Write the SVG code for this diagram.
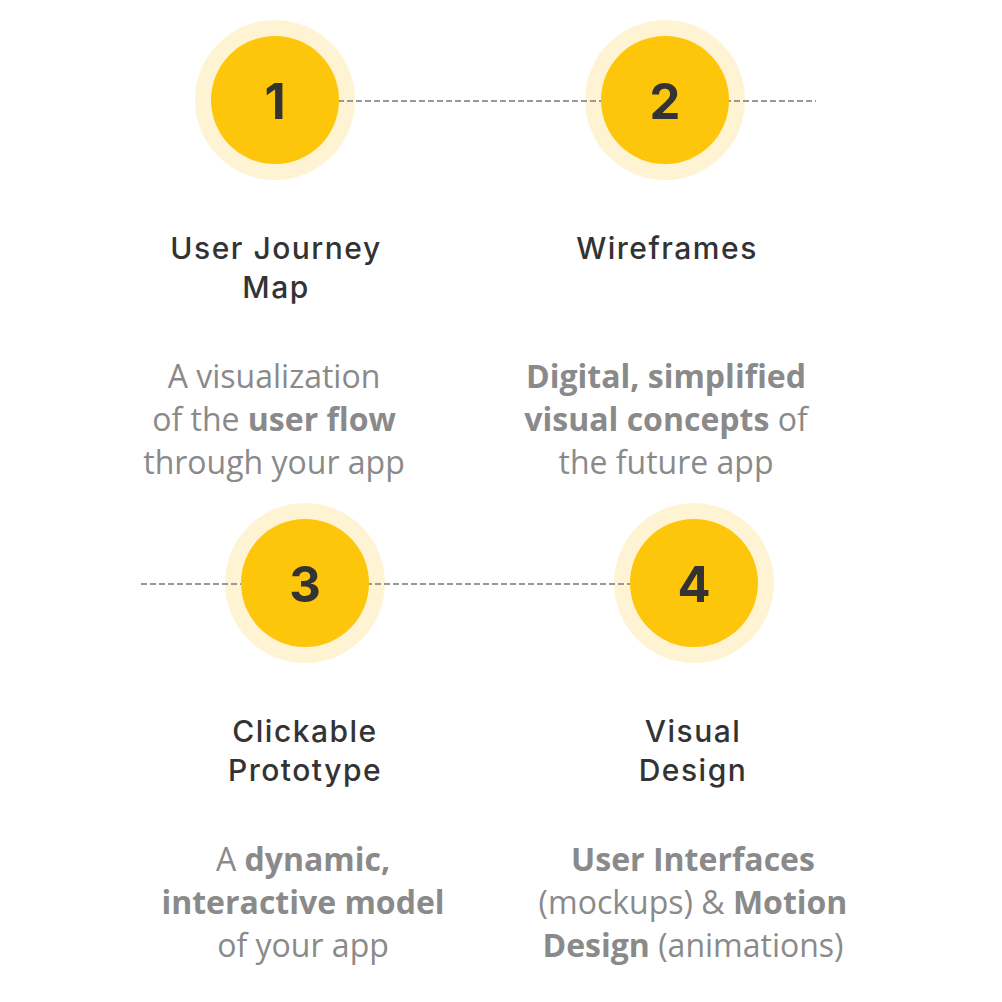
<svg xmlns="http://www.w3.org/2000/svg" width="1002" height="1002" viewBox="0 0 1002 1002">
<style>
.halo{fill:#FEF3D3}
.core{fill:#FDC60B}
.num{font-family:Inter,"DejaVu Sans",sans-serif;font-weight:700;font-size:49px;fill:#333333;text-anchor:middle}
.title{font-family:Inter,"DejaVu Sans",sans-serif;font-weight:500;font-size:30px;fill:#333333;text-anchor:middle;letter-spacing:1.5px}
.desc{font-family:"Open Sans","DejaVu Sans",sans-serif;font-weight:400;font-size:32px;fill:#8a8a8a;text-anchor:middle}
.b{font-weight:700}
.dash{stroke:#999999;stroke-width:2;stroke-dasharray:6 3;fill:none}
</style>
<rect width="1002" height="1002" fill="#ffffff"/>
<g id="halos">
<circle class="halo" cx="275" cy="100" r="80"/>
<circle class="halo" cx="665" cy="100" r="80"/>
<circle class="halo" cx="305" cy="583" r="80"/>
<circle class="halo" cx="694" cy="583" r="80"/>
</g>
<g id="connectors">
<line class="dash" x1="275" y1="101" x2="816" y2="101"/>
<line class="dash" x1="141" y1="584" x2="694" y2="584"/>
</g>
<g id="node1">
<circle class="core" cx="275" cy="100" r="64"/>
<text class="num" x="275" y="119">1</text>
<text class="title" x="276" y="259">User Journey</text>
<text class="title" x="276" y="298">Map</text>
<text class="desc" x="274" y="388">A visualization</text>
<text class="desc" x="274" y="431">of the <tspan class="b">user flow</tspan></text>
<text class="desc" x="274" y="474">through your app</text>
</g>
<g id="node2">
<circle class="core" cx="665" cy="100" r="64"/>
<text class="num" x="665" y="119">2</text>
<text class="title" x="667" y="259">Wireframes</text>
<text class="desc" x="666" y="388"><tspan class="b">Digital, simplified</tspan></text>
<text class="desc" x="666" y="431"><tspan class="b">visual concepts</tspan> of</text>
<text class="desc" x="666" y="474">the future app</text>
</g>
<g id="node3">
<circle class="core" cx="305" cy="583" r="64"/>
<text class="num" x="305" y="602">3</text>
<text class="title" x="305" y="742">Clickable</text>
<text class="title" x="305" y="781">Prototype</text>
<text class="desc" x="303" y="871">A <tspan class="b">dynamic,</tspan></text>
<text class="desc" x="303" y="914"><tspan class="b">interactive model</tspan></text>
<text class="desc" x="303" y="957">of your app</text>
</g>
<g id="node4">
<circle class="core" cx="694" cy="583" r="64"/>
<text class="num" x="694" y="602">4</text>
<text class="title" x="693" y="742">Visual</text>
<text class="title" x="693" y="781">Design</text>
<text class="desc" x="693" y="871"><tspan class="b">User Interfaces</tspan></text>
<text class="desc" x="693" y="914">(mockups) &amp; <tspan class="b">Motion</tspan></text>
<text class="desc" x="693" y="957"><tspan class="b">Design</tspan> (animations)</text>
</g>
</svg>
